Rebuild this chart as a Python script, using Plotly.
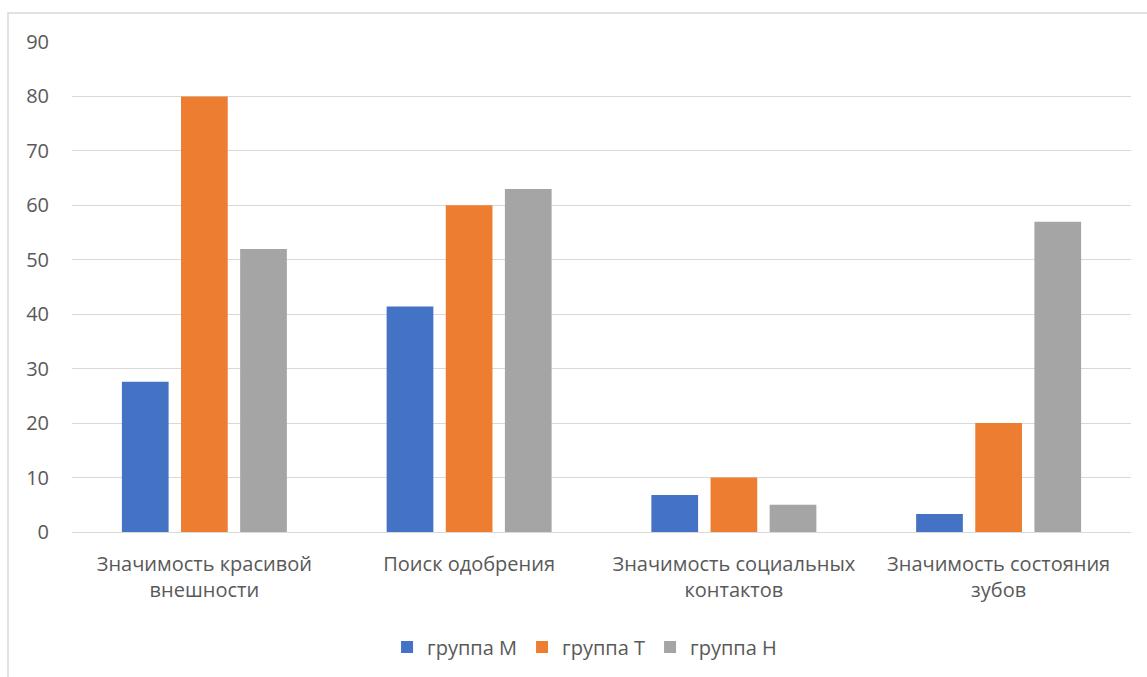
import plotly.graph_objects as go

categories = [
    "Значимость красивой<br>внешности",
    "Поиск одобрения",
    "Значимость социальных<br>контактов",
    "Значимость состояния<br>зубов",
]
group_m = [27.6, 41.4, 6.8, 3.3]
group_t = [80, 60, 10, 20]
group_h = [52, 63, 5, 57]

series = [
    ("группа М", group_m, "#4472C4"),
    ("группа Т", group_t, "#ED7D31"),
    ("группа Н", group_h, "#A5A5A5"),
]

fig = go.Figure()
for name, vals, color in series:
    fig.add_trace(go.Bar(x=categories, y=vals, name=name, marker_color=color,
                         marker_line_width=0))

font_family = "Open Sans, Noto Sans, sans-serif"
txt = dict(size=20, color="#595959")
fig.update_layout(
    width=1147, height=677,
    margin=dict(l=72, r=16, t=42, b=144),
    paper_bgcolor="white", plot_bgcolor="white",
    barmode="group", bargap=0.33, bargroupgap=0.21,
    font=dict(family=font_family, **txt),
    showlegend=True,
    legend=dict(orientation="h", x=0.484, xanchor="center", y=-0.232, yanchor="middle",
                font=txt, itemwidth=30, traceorder="normal"),
    yaxis=dict(range=[0, 90], dtick=10, showgrid=True, gridcolor="#d9d9d9",
               gridwidth=1.3, zeroline=False, showline=False, ticks="",
               ticklabelstandoff=22, tickfont=txt),
    xaxis=dict(showline=True, linecolor="#d9d9d9", linewidth=1.3, ticks="",
               ticklabelstandoff=14, tickfont=txt),
    shapes=[dict(type="rect", xref="paper", yref="paper",
                 x0=-64 / 1059, x1=1.05, y0=-0.5, y1=1 + 29 / 491,
                 line=dict(color="#d9d9d9", width=1.5), fillcolor="rgba(0,0,0,0)")],
)

fig.write_html("out.html")
